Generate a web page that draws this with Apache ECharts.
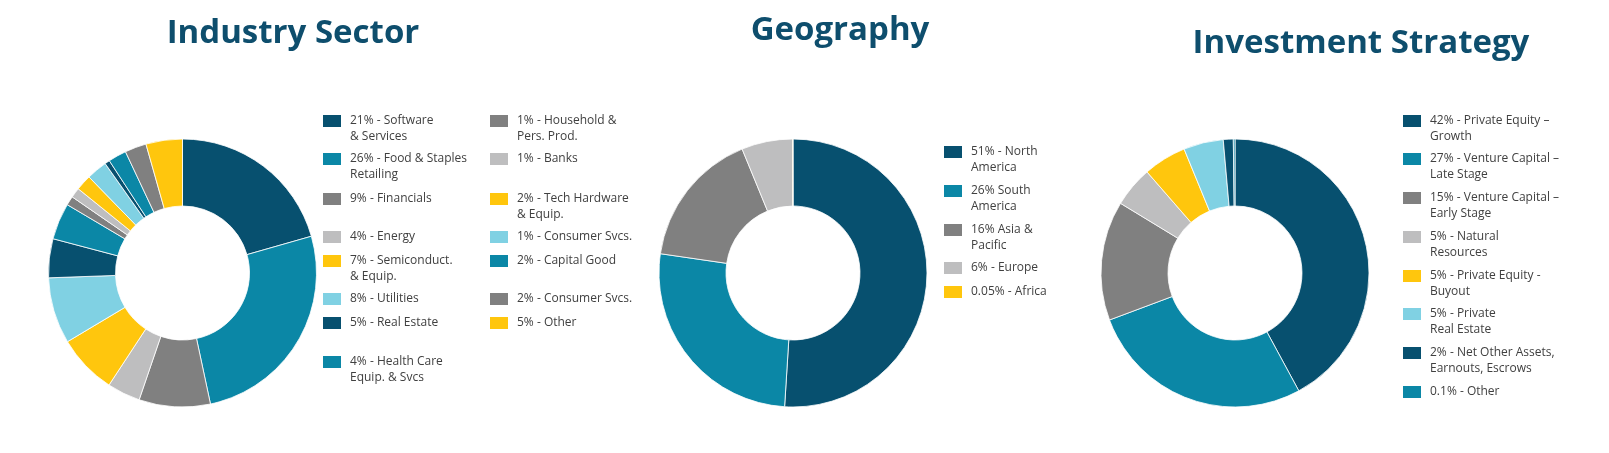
<!DOCTYPE html>
<html>
<head>
<meta charset="utf-8">
<script src="https://cdn.jsdelivr.net/npm/echarts@6/dist/echarts.min.js"></script>
<style>
html,body{margin:0;padding:0;background:#fff;}
#chart{width:1609px;height:453px;}
</style>
</head>
<body>
<div id="chart"></div>
<script>
// ---------- DATA ----------
const titles = ['Industry Sector', 'Geography', 'Investment Strategy'];

const industryNames = [
  '21% - Software\n& Services', '26% - Food & Staples\nRetailing', '9% - Financials', '4% - Energy',
  '7% - Semiconduct.\n& Equip.', '8% - Utilities', '5% - Real Estate', '4% - Health Care\nEquip. & Svcs',
  '1% - Household &\nPers. Prod.', '1% - Banks', '2% - Tech Hardware\n& Equip.', '1% - Consumer Svcs.',
  'Unlisted', '2% - Capital Good', '2% - Consumer Svcs.', '5% - Other'
];
const industryValues = [20.6, 26.1, 8.6, 4.0, 7.2, 8.0, 4.7, 4.4, 1.1, 1.2, 1.9, 2.5, 0.6, 2.2, 2.6, 4.4];

const geographyNames = ['51% - North\nAmerica', '26% South\nAmerica', '16% Asia &\nPacific', '6% - Europe', '0.05% - Africa'];
const geographyValues = [51.0, 26.3, 16.5, 6.15, 0.05];

const strategyNames = [
  '42% - Private Equity –\nGrowth', '27% - Venture Capital –\nLate Stage', '15% - Venture Capital –\nEarly Stage',
  '5% - Natural\nResources', '5% - Private Equity -\nBuyout', '5% - Private\nReal Estate',
  '2% - Net Other Assets,\nEarnouts, Escrows', '0.1% - Other'
];
const strategyValues = [42.1, 27.2, 14.4, 4.9, 5.2, 4.8, 1.2, 0.2];

// ---------- STYLE / LAYOUT ----------
const C = { navy: '#07506f', teal: '#0b87a6', gray: '#808080', lgray: '#bebebf', yellow: '#ffc60d', lblue: '#80d1e3' };
const industryColors = ['navy','teal','gray','lgray','yellow','lblue','navy','teal','gray','lgray','yellow','lblue','navy','teal','gray','yellow'];
const geographyColors = ['navy','teal','gray','lgray','yellow'];
const strategyColors = ['navy','teal','gray','lgray','yellow','lblue','navy','teal'];

// legend layout: [nameIndex, iconLeft, iconTop]
const industryLegendLayout = [
  [0,321,114],[1,321,152],[2,321,192],[3,321,230],[4,321,254],[5,321,292],[6,321,316],[7,321,355],
  [8,488,114],[9,488,152],[10,488,192],[11,488,230],[13,488,254],[14,488,292],[15,488,316]
];
const geographyLegendLayout = [[0,942,145],[1,942,184],[2,942,223],[3,942,261],[4,942,285]];
const strategyLegendLayout = [[0,1401,114],[1,1401,152],[2,1401,191],[3,1401,230],[4,1401,269],[5,1401,307],[6,1401,346],[7,1401,385]];

const LH = 16;
function legendsFor(names, layout) {
  return layout.map(function (l) {
    const name = names[l[0]];
    const two = name.indexOf('\n') >= 0;
    return {
      data: [name],
      left: l[1],
      top: l[2] - (two ? 17 : 1),
      padding: 0,
      icon: 'rect',
      itemWidth: 20,
      itemHeight: 14,
      selectedMode: false,
      // a leading empty line keeps the first text line level with the swatch
      formatter: function (n) { return n.indexOf('\n') >= 0 ? '\n' + n : n; },
      textStyle: {
        fontFamily: 'Open Sans', fontSize: 12, color: '#404040', lineHeight: LH,
        padding: [0, 0, 0, 3]
      }
    };
  });
}

function pieData(names, values, colors) {
  return names.map(function (n, i) {
    return { name: n, value: values[i], itemStyle: { color: C[colors[i]] } };
  });
}

function pie(names, values, colors, cx) {
  return {
    type: 'pie',
    center: [cx, 273],
    radius: [67, 134],
    startAngle: 90,
    clockwise: true,
    avoidLabelOverlap: false,
    label: { show: false },
    labelLine: { show: false },
    emphasis: { disabled: true },
    silent: true,
    itemStyle: { borderColor: '#ffffff', borderWidth: 0.8 },
    data: pieData(names, values, colors)
  };
}

const titleStyle = { fontFamily: 'Open Sans', fontWeight: 'bold', fontSize: 33, color: '#0e4e6d', lineHeight: 33 };
const chart = echarts.init(document.getElementById('chart'), null, { renderer: 'canvas' });
chart.setOption({
  animation: false,
  backgroundColor: '#ffffff',
  title: [
    { text: titles[0], left: 293, top: 17, textAlign: 'center', padding: 0, textStyle: titleStyle },
    { text: titles[1], left: 840, top: 14, textAlign: 'center', padding: 0, textStyle: titleStyle },
    { text: titles[2], left: 1361, top: 27, textAlign: 'center', padding: 0, textStyle: titleStyle }
  ],
  legend: [].concat(
    legendsFor(industryNames, industryLegendLayout),
    legendsFor(geographyNames, geographyLegendLayout),
    legendsFor(strategyNames, strategyLegendLayout)
  ),
  series: [
    pie(industryNames, industryValues, industryColors, 182.5),
    pie(geographyNames, geographyValues, geographyColors, 793),
    pie(strategyNames, strategyValues, strategyColors, 1235)
  ]
});
</script>
</body>
</html>
